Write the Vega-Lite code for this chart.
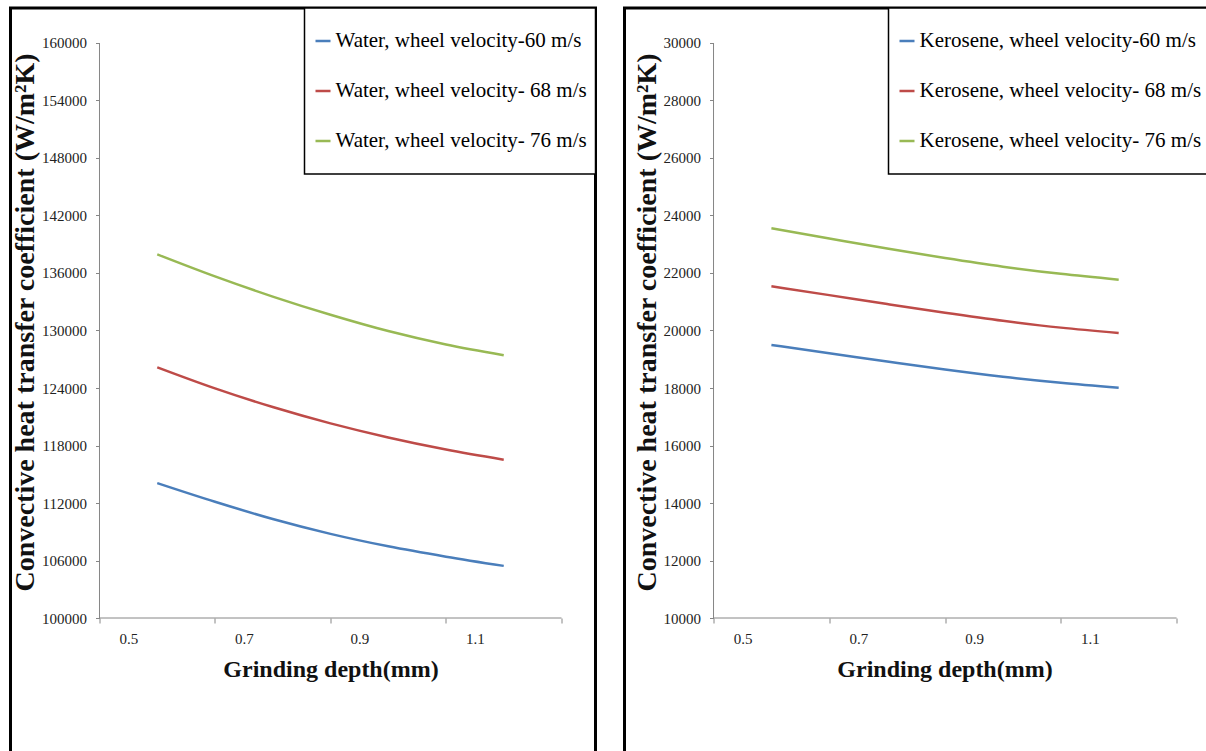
{
  "$schema": "https://vega.github.io/schema/vega-lite/v6.json",
  "padding": {"left": 8.5, "top": 5, "right": 0, "bottom": 0},
  "background": "white",
  "config": {
    "font": "Liberation Serif",
    "view": {"stroke": "black", "strokeWidth": 3},
    "concat": {"spacing": 24},
    "axis": {
      "domain": false,
      "grid": false,
      "tickColor": "#868686",
      "tickWidth": 1,
      "labelFlush": false,
      "labelOverlap": false,
      "titleFontWeight": "bold",
      "titleColor": "#111111"
    },
    "legend": {
      "orient": "top-right",
      "offset": 0,
      "strokeColor": "black",
      "strokeWidth": 1.5,
      "fillColor": "white",
      "padding": 8,
      "symbolType": "stroke",
      "symbolSize": 225,
      "symbolStrokeWidth": 2.5,
      "labelFont": "Liberation Serif",
      "labelFontSize": 21,
      "labelColor": "black",
      "labelLimit": 400,
      "labelOffset": 2,
      "clipHeight": 50,
      "rowPadding": 0
    }
  },
  "resolve": {"scale": {"x": "independent", "y": "independent", "color": "independent"}},
  "hconcat": [
    {
      "width": 585,
      "height": 760,
      "layer": [
        {
          "data": {"values": [
            {"depth": 0.5, "h": 114080, "series": "Water, wheel velocity-60 m/s"},
            {"depth": 0.6, "h": 112130, "series": "Water, wheel velocity-60 m/s"},
            {"depth": 0.7, "h": 110330, "series": "Water, wheel velocity-60 m/s"},
            {"depth": 0.8, "h": 108780, "series": "Water, wheel velocity-60 m/s"},
            {"depth": 0.9, "h": 107480, "series": "Water, wheel velocity-60 m/s"},
            {"depth": 1.0, "h": 106400, "series": "Water, wheel velocity-60 m/s"},
            {"depth": 1.1, "h": 105440, "series": "Water, wheel velocity-60 m/s"},
            {"depth": 0.5, "h": 126160, "series": "Water, wheel velocity- 68 m/s"},
            {"depth": 0.6, "h": 123960, "series": "Water, wheel velocity- 68 m/s"},
            {"depth": 0.7, "h": 122010, "series": "Water, wheel velocity- 68 m/s"},
            {"depth": 0.8, "h": 120310, "series": "Water, wheel velocity- 68 m/s"},
            {"depth": 0.9, "h": 118840, "series": "Water, wheel velocity- 68 m/s"},
            {"depth": 1.0, "h": 117580, "series": "Water, wheel velocity- 68 m/s"},
            {"depth": 1.1, "h": 116520, "series": "Water, wheel velocity- 68 m/s"},
            {"depth": 0.5, "h": 137940, "series": "Water, wheel velocity- 76 m/s"},
            {"depth": 0.6, "h": 135640, "series": "Water, wheel velocity- 76 m/s"},
            {"depth": 0.7, "h": 133540, "series": "Water, wheel velocity- 76 m/s"},
            {"depth": 0.8, "h": 131640, "series": "Water, wheel velocity- 76 m/s"},
            {"depth": 0.9, "h": 129940, "series": "Water, wheel velocity- 76 m/s"},
            {"depth": 1.0, "h": 128540, "series": "Water, wheel velocity- 76 m/s"},
            {"depth": 1.1, "h": 127420, "series": "Water, wheel velocity- 76 m/s"}
          ]},
          "mark": {"type": "line", "interpolate": "monotone", "strokeWidth": 2.5},
          "encoding": {
            "x": {
              "field": "depth", "type": "quantitative",
              "scale": {"domain": [0.2459, 1.2589], "nice": false, "zero": false},
              "axis": {
                "values": [0.4, 0.6, 0.8, 1.0, 1.2],
                "offset": -150,
                "tickSize": 5,
                "labelOffset": 29,
                "labelPadding": 8,
                "labelFont": "Liberation Serif",
                "labelFontSize": 15,
                "labelColor": "#222222",
                "labelExpr": "datum.value > 1.1 ? '' : format(datum.value + 0.1, '.1f')",
                "title": "Grinding depth(mm)",
                "titleFont": "Liberation Serif",
                "titleFontSize": 24,
                "titlePadding": 11,
                "titleX": 320
              }
            },
            "y": {
              "field": "h", "type": "quantitative",
              "scale": {"domain": [84348, 163652], "nice": false, "zero": false},
              "axis": {
                "values": [100000, 106000, 112000, 118000, 124000, 130000, 136000, 142000, 148000, 154000, 160000],
                "format": "d",
                "offset": -89,
                "tickSize": 4,
                "labelPadding": 9,
                "labelFont": "Liberation Serif",
                "labelFontSize": 15,
                "labelColor": "#222222",
                "title": "Convective heat transfer coefficient (W/m²K)",
                "titleFont": "Liberation Serif",
                "titleFontSize": 28,
                "titlePadding": 2,
                "titleY": 314
              }
            },
            "color": {
              "field": "series", "type": "nominal",
              "scale": {
                "domain": ["Water, wheel velocity-60 m/s", "Water, wheel velocity- 68 m/s", "Water, wheel velocity- 76 m/s"],
                "range": ["#4A7EBB", "#BE4B48", "#98B954"]
              },
              "legend": {"title": null}
            }
          }
        },
        {
          "data": {"values": [{}]},
          "mark": {"type": "rule", "color": "#868686", "strokeWidth": 1},
          "encoding": {
            "x": {"datum": 0.4, "type": "quantitative"},
            "y": {"datum": 100000, "type": "quantitative"},
            "y2": {"datum": 160000}
          }
        },
        {
          "data": {"values": [{}]},
          "mark": {"type": "rule", "color": "#868686", "strokeWidth": 1},
          "encoding": {
            "x": {"datum": 0.4, "type": "quantitative"},
            "x2": {"datum": 1.2},
            "y": {"datum": 100000, "type": "quantitative"}
          }
        }
      ]
    },
    {
      "width": 585,
      "height": 760,
      "layer": [
        {
          "data": {"values": [
            {"depth": 0.5, "h": 19496, "series": "Kerosene, wheel velocity-60 m/s"},
            {"depth": 0.6, "h": 19210, "series": "Kerosene, wheel velocity-60 m/s"},
            {"depth": 0.7, "h": 18920, "series": "Kerosene, wheel velocity-60 m/s"},
            {"depth": 0.8, "h": 18640, "series": "Kerosene, wheel velocity-60 m/s"},
            {"depth": 0.9, "h": 18390, "series": "Kerosene, wheel velocity-60 m/s"},
            {"depth": 1.0, "h": 18180, "series": "Kerosene, wheel velocity-60 m/s"},
            {"depth": 1.1, "h": 18010, "series": "Kerosene, wheel velocity-60 m/s"},
            {"depth": 0.5, "h": 21537, "series": "Kerosene, wheel velocity- 68 m/s"},
            {"depth": 0.6, "h": 21230, "series": "Kerosene, wheel velocity- 68 m/s"},
            {"depth": 0.7, "h": 20920, "series": "Kerosene, wheel velocity- 68 m/s"},
            {"depth": 0.8, "h": 20620, "series": "Kerosene, wheel velocity- 68 m/s"},
            {"depth": 0.9, "h": 20340, "series": "Kerosene, wheel velocity- 68 m/s"},
            {"depth": 1.0, "h": 20100, "series": "Kerosene, wheel velocity- 68 m/s"},
            {"depth": 1.1, "h": 19913, "series": "Kerosene, wheel velocity- 68 m/s"},
            {"depth": 0.5, "h": 23555, "series": "Kerosene, wheel velocity- 76 m/s"},
            {"depth": 0.6, "h": 23200, "series": "Kerosene, wheel velocity- 76 m/s"},
            {"depth": 0.7, "h": 22850, "series": "Kerosene, wheel velocity- 76 m/s"},
            {"depth": 0.8, "h": 22520, "series": "Kerosene, wheel velocity- 76 m/s"},
            {"depth": 0.9, "h": 22220, "series": "Kerosene, wheel velocity- 76 m/s"},
            {"depth": 1.0, "h": 21970, "series": "Kerosene, wheel velocity- 76 m/s"},
            {"depth": 1.1, "h": 21767, "series": "Kerosene, wheel velocity- 76 m/s"}
          ]},
          "mark": {"type": "line", "interpolate": "monotone", "strokeWidth": 2.5},
          "encoding": {
            "x": {
              "field": "depth", "type": "quantitative",
              "scale": {"domain": [0.2462, 1.2569], "nice": false, "zero": false},
              "axis": {
                "values": [0.4, 0.6, 0.8, 1.0, 1.2],
                "offset": -150,
                "tickSize": 5,
                "labelOffset": 29,
                "labelPadding": 8,
                "labelFont": "Liberation Serif",
                "labelFontSize": 15,
                "labelColor": "#222222",
                "labelExpr": "datum.value > 1.1 ? '' : format(datum.value + 0.1, '.1f')",
                "title": "Grinding depth(mm)",
                "titleFont": "Liberation Serif",
                "titleFontSize": 24,
                "titlePadding": 11,
                "titleX": 320
              }
            },
            "y": {
              "field": "h", "type": "quantitative",
              "scale": {"domain": [4783, 31217], "nice": false, "zero": false},
              "axis": {
                "values": [10000, 12000, 14000, 16000, 18000, 20000, 22000, 24000, 26000, 28000, 30000],
                "format": "d",
                "offset": -89,
                "tickSize": 4,
                "labelPadding": 9,
                "labelFont": "Liberation Serif",
                "labelFontSize": 15,
                "labelColor": "#222222",
                "title": "Convective heat transfer coefficient (W/m²K)",
                "titleFont": "Liberation Serif",
                "titleFontSize": 28,
                "titlePadding": 2,
                "titleY": 314
              }
            },
            "color": {
              "field": "series", "type": "nominal",
              "scale": {
                "domain": ["Kerosene, wheel velocity-60 m/s", "Kerosene, wheel velocity- 68 m/s", "Kerosene, wheel velocity- 76 m/s"],
                "range": ["#4A7EBB", "#BE4B48", "#98B954"]
              },
              "legend": {"title": null}
            }
          }
        },
        {
          "data": {"values": [{}]},
          "mark": {"type": "rule", "color": "#868686", "strokeWidth": 1},
          "encoding": {
            "x": {"datum": 0.4, "type": "quantitative"},
            "y": {"datum": 10000, "type": "quantitative"},
            "y2": {"datum": 30000}
          }
        },
        {
          "data": {"values": [{}]},
          "mark": {"type": "rule", "color": "#868686", "strokeWidth": 1},
          "encoding": {
            "x": {"datum": 0.4, "type": "quantitative"},
            "x2": {"datum": 1.2},
            "y": {"datum": 10000, "type": "quantitative"}
          }
        }
      ]
    }
  ]
}
